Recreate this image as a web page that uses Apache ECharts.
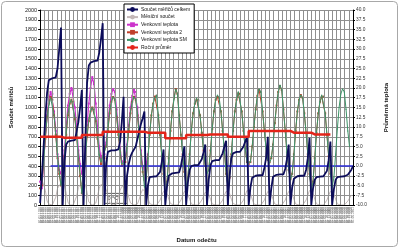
<!DOCTYPE html>
<html>
<head>
<meta charset="utf-8">
<script src="https://cdn.jsdelivr.net/npm/echarts@6/dist/echarts.min.js"></script>
<style>
  html, body { margin: 0; padding: 0; background: #fff; }
  #chart { width: 400px; height: 249px; }
</style>
</head>
<body>
<div id="chart"></div>
<script>
// dates of the readings, one per month
const prvniRok = 1996;
const pocetMesicu = 181;
const datumy = [];
for (let i = 0; i < pocetMesicu; i++) {
  const m = (i % 12) + 1;
  const r = prvniRok + Math.floor(i / 12);
  datumy.push('01.' + (m < 10 ? '0' + m : m) + '.' + r);
}

// Součet měřičů celkem (left axis)
const soucetMericu = [
  20, 300, 600, 900, 1150, 1280, 1300, 1300, 1300, 1310, 1400, 1600,
  1820, 0, 450, 620, 650, 655, 660, 660, 665, 670, 850, 1000,
  1180, 0, 650, 1250, 1430, 1460, 1470, 1475, 1480, 1480, 1560, 1700,
  1865, 0, 430, 545, 555, 560, 560, 560, 565, 570, 650, 850,
  1110, 0, 300, 420, 500, 540, 560, 600, 680, 760, 830, 890,
  960, 0, 200, 285, 290, 290, 290, 295, 295, 340, 440, 570,
  0, 190, 300, 320, 325, 330, 330, 330, 335, 400, 500, 600,
  0, 230, 360, 400, 405, 410, 410, 410, 415, 470, 540, 620,
  0, 260, 410, 450, 455, 460, 460, 460, 465, 530, 600, 660,
  0, 300, 480, 530, 540, 545, 545, 545, 550, 600, 650, 700,
  0, 180, 280, 300, 300, 300, 305, 305, 305, 380, 480, 700,
  0, 170, 290, 310, 310, 310, 315, 315, 315, 370, 470, 620,
  0, 180, 270, 290, 295, 295, 300, 300, 300, 360, 480, 690,
  0, 170, 260, 285, 290, 290, 290, 295, 295, 350, 460, 650,
  0, 160, 260, 285, 290, 290, 290, 295, 295, 310, 330, 360,
  400
];

// Měsíční součet (left axis)
const mesicniSoucet = [
  200, 260, 240, 150, 40, 10, 0, 0, 10, 80, 170, 200,
  220, 240, 200, 120, 30, 0, 0, 0, 10, 90, 180, 200,
  230, 250, 210, 130, 30, 10, 0, 0, 20, 90, 170, 210,
  220, 200, 160, 90, 20, 0, 0, 0, 10, 80, 150, 190,
  200, 180, 140, 80, 20, 0, 0, 0, 10, 60, 120, 160,
  180, 130, 70, 15, 0, 0, 0, 0, 10, 50, 100, 140,
  160, 120, 60, 15, 0, 0, 0, 0, 10, 50, 100, 140,
  150, 110, 60, 10, 0, 0, 0, 0, 10, 50, 90, 130,
  150, 110, 60, 10, 0, 0, 0, 0, 10, 50, 100, 140,
  160, 120, 60, 15, 0, 0, 0, 0, 10, 50, 100, 150,
  170, 120, 60, 10, 0, 0, 0, 0, 10, 50, 100, 140,
  150, 110, 60, 10, 0, 0, 0, 0, 10, 50, 100, 140,
  160, 110, 60, 10, 0, 0, 0, 0, 10, 50, 100, 150,
  160, 120, 60, 10, 0, 0, 0, 0, 10, 50, 100, 140,
  150, 110, 60, 10, 0, 0, 0, 0, 10, 40, 70, 100
];

// Venkovní teplota (°C, right axis)
const venkovniTeplota = [
  -4, -5.7, 1, 7.5, 13, 17, 19, 18.5, 14, 9, 3, -1,
  -1.9, 0, 4, 10, 15.5, 18.5, 20, 19.5, 15, 10, 4, 0.5,
  -2, -1, 4.5, 10.5, 16, 20, 22.8, 21, 16, 10, 5, 2,
  3.3, 3, 6, 11, 15.5, 18.5, 19.7, 19, 14.5, 9.5, 4.5, 1,
  1, 2, 5.5, 10.5, 15, 18, 19.5, 19, 15, 9, 4, 0,
  -1, 0.5, 3
];

// Venkovní teplota 2 (°C)
const venkovniTeplota2 = [
  -5.7, -5, 1, 7, 12.5, 16, 17.7, 17, 13, 8, 2, -2,
  -5, -3.5, 2.5, 8, 13, 16, 17, 16.5, 12, 7.5, 2, -2.5,
  -7, -4.5, 2, 7.5, 11.5, 14, 15, 14.5, 11.5, 7, 2.5, 0.5,
  2.5, 2, 5, 9, 13.5, 16.5, 17.7, 17, 12.5, 8, 3.5, 0,
  0.5, 1, 4.5, 9, 13.5, 16.5, 17.7, 17, 13, 7.5, 2.5, -1.5,
  -3.6, -3, 2, 8, 13, 16, 17.8, 18, 13, 8, 2.5, -2,
  -7.5, -4, 2, 9, 14, 17.5, 19.75, 18.5, 13, 8, 3, -1.5,
  -5, -3, 3, 9, 13.5, 16, 17, 16.8, 13, 8.5, 4, 0,
  -2, -1, 4, 9.5, 14, 17, 17.7, 17.5, 14, 9, 4, -2,
  -5, -3, 3, 9, 14, 17, 18.6, 18.5, 14, 9, 4.5, 1,
  0.5, 1, 5, 10, 14.5, 18, 19.5, 19, 14, 9, 4.5, 1.5,
  1, 2, 5.5, 11, 15.5, 19, 20.5, 19.5, 14.5, 9, 3.5, -1,
  -3.4, -2, 3, 9, 14, 17, 18.2, 17.5, 13.5, 8.5, 3, -2,
  -5.7, -4, 2, 8.5, 13.5, 16.5, 17.7, 17.8, 13.5, 8, 2.5, -2
];

// Venkovní teplota SM (°C)
const venkovniTeplotaSM = [
  -5.5, -4.5, 1.5, 7.5, 12.5, 15.5, 17.5, 17, 13, 8, 2.5, -1.5,
  -5, -3, 3, 8.5, 13.5, 16, 17, 16.5, 12.5, 8, 2.5, -2,
  -7, -4, 2.5, 8, 12, 14, 15, 14.5, 12, 7.5, 3, 1,
  2.5, 2, 5, 9.5, 14, 16.5, 17.7, 17, 13, 8.5, 4, 0.5,
  0.5, 1.5, 5, 9.5, 14, 16.5, 17.7, 17, 13.5, 8, 3, -1,
  -5.4, -3.5, 2, 8, 13, 16, 17.5, 18.2, 13, 8, 2.5, -2,
  -8, -4, 2, 9, 14, 17, 19.75, 18.5, 13, 8, 3, -1.5,
  -5.4, -3, 3, 9, 13.5, 16, 17.4, 17, 13, 8.5, 4, 0,
  -1.9, -1, 4, 9.5, 14, 17, 18.2, 17.5, 14, 9, 4, -2,
  -5.4, -3, 3, 9, 14, 17, 19, 18.5, 14, 9, 4.5, 1,
  0.75, 1, 5, 10, 14.5, 18, 19.75, 19, 14, 9, 4.5, 1.5,
  0.75, 2, 5.5, 11, 15.5, 19, 20.75, 19.5, 14.5, 9, 3.5, -1,
  -3.6, -2, 3, 9, 14, 17, 18.2, 17.5, 13.5, 8.5, 3, -2,
  -6.2, -4, 2, 8.5, 13.5, 16.5, 18.2, 17.8, 13.5, 8, 2.5, -2,
  -5.4, -3, 3, 9.5, 15, 18.5, 19.75, 19, 14.5, 9, 5
];

// Roční průměr (°C), one value per year
const rocniPrumer = [7.5, 7.25, 7.95, 8.8, 8.8, 8.55, 7.1, 7.95, 8.1, 7.5, 9.0, 9.0, 8.55, 8.1];

// 0 °C line starts at this reading
const nulaOd = 6;

let rocniMesicne = [];
rocniPrumer.forEach((v) => {
  for (let m = 0; m < 12; m++) rocniMesicne.push(v);
});

// vertical gridlines, every 2.4 readings
const krokMrizky = 2.4;
let svisleLinie = [];
for (let k = 1; k * krokMrizky < pocetMesicu - 1; k++) {
  svisleLinie.push({ xAxis: k * krokMrizky });
}

let dom = document.getElementById('chart');
let myChart = echarts.init(dom, null, { renderer: 'canvas' });

const font = 'Liberation Sans';
const gridColor = '#8f8f8f';

let option = {
  animation: false,
  backgroundColor: '#fff',
  textStyle: { fontFamily: font },
  grid: { left: 32, right: 47, top: 10, bottom: 44 },
  legend: {
    data: ['Součet měřičů celkem', 'Měsíční součet', 'Venkovní teplota',
      'Venkovní teplota 2', 'Venkovní teplota SM', 'Roční průměr'],
    orient: 'vertical',
    left: 124,
    top: 4,
    zlevel: 1,
    itemWidth: 11,
    itemHeight: 6,
    itemGap: 2.6,
    padding: [3, 4, 3, 2],
    backgroundColor: '#fff',
    borderColor: '#000',
    borderWidth: 1,
    textStyle: { fontSize: 5, color: '#111', fontFamily: font, padding: [0, 0, 0, -2] }
  },
  xAxis: [
    {
      type: 'category',
      data: datumy,
      boundaryGap: false,
      name: 'Datum odečtu',
      nameLocation: 'middle',
      nameGap: 32,
      nameTextStyle: { fontSize: 6, fontWeight: 'bold', color: '#111' },
      axisLine: { lineStyle: { color: '#000', width: 1 } },
      axisTick: { show: false },
      axisLabel: { interval: 0, rotate: 90, fontSize: 3.2, color: '#777', margin: 2 },
      splitLine: { show: false },
      z: 3
    },
    {
      // hidden axis that carries the vertical gridlines
      type: 'value',
      min: 0,
      max: pocetMesicu - 1,
      position: 'bottom',
      show: false
    }
  ],
  yAxis: [
    {
      type: 'value',
      min: 0,
      max: 2000,
      interval: 100,
      name: 'Součet měřičů',
      nameLocation: 'middle',
      nameRotate: 90,
      nameGap: 22,
      nameTextStyle: { fontSize: 6, fontWeight: 'bold', color: '#111' },
      axisLine: { show: true, lineStyle: { color: '#000' } },
      axisTick: { show: true, length: 2, lineStyle: { color: '#000' } },
      axisLabel: { fontSize: 5.5, color: '#222', margin: 3, formatter: (v) => String(v) },
      splitLine: { lineStyle: { color: gridColor, width: 1 } }
    },
    {
      type: 'value',
      min: -10,
      max: 40,
      interval: 2.5,
      name: 'Průměrná teplota',
      nameLocation: 'middle',
      nameRotate: 90,
      nameGap: 30,
      nameTextStyle: { fontSize: 6, fontWeight: 'bold', color: '#111' },
      axisLine: { show: true, lineStyle: { color: '#000' } },
      axisTick: { show: true, length: 2, lineStyle: { color: '#000' } },
      axisLabel: { fontSize: 4.8, color: '#333', margin: 3, formatter: (v) => v.toFixed(1) },
      splitLine: { show: false }
    }
  ],
  series: [
    {
      name: 'mrizka',
      type: 'line',
      xAxisIndex: 1,
      data: [],
      symbol: 'none',
      silent: true,
      markLine: {
        silent: true,
        symbol: 'none',
        label: { show: false },
        animation: false,
        lineStyle: { color: gridColor, width: 1, type: 'solid' },
        data: svisleLinie
      },
      z: 1
    },
    {
      name: 'Měsíční součet',
      type: 'line',
      data: mesicniSoucet,
      symbol: 'none',
      lineStyle: { color: '#c4b8b8', width: 1 },
      itemStyle: { color: '#c4b8b8' },
      z: 2
    },
    {
      name: 'Venkovní teplota',
      type: 'line',
      yAxisIndex: 1,
      data: venkovniTeplota,
      symbol: 'rect',
      symbolSize: 2,
      lineStyle: { color: '#cc33cc', width: 1.2 },
      itemStyle: { color: '#cc33cc' },
      z: 3
    },
    {
      name: 'Venkovní teplota 2',
      type: 'line',
      yAxisIndex: 1,
      data: venkovniTeplota2,
      symbol: 'rect',
      symbolSize: 2,
      lineStyle: { color: '#c0402a', width: 1 },
      itemStyle: { color: '#c0402a' },
      z: 4
    },
    {
      name: 'Venkovní teplota SM',
      type: 'line',
      yAxisIndex: 1,
      data: venkovniTeplotaSM,
      symbol: 'circle',
      symbolSize: 1.2,
      lineStyle: { color: '#3d9468', width: 1 },
      itemStyle: { color: '#3d9468' },
      z: 5
    },
    {
      name: 'Součet měřičů celkem',
      type: 'line',
      data: soucetMericu,
      symbol: 'none',
      lineStyle: { color: '#0c0c5a', width: 1.8 },
      itemStyle: { color: '#0c0c5a' },
      z: 6
    },
    {
      name: '0 °C',
      type: 'line',
      yAxisIndex: 1,
      data: [],
      symbol: 'none',
      markLine: {
        silent: true,
        symbol: 'none',
        label: { show: false },
        lineStyle: { color: '#2a2ad8', width: 1.5, type: 'solid' },
        data: [[{ coord: [nulaOd, 0] }, { coord: [pocetMesicu - 1, 0] }]]
      },
      z: 7
    },
    {
      name: 'Roční průměr',
      type: 'line',
      yAxisIndex: 1,
      data: rocniMesicne,
      step: 'end',
      symbol: 'none',
      lineStyle: { color: '#e32419', width: 2.5 },
      itemStyle: { color: '#e32419' },
      z: 8
    }
  ],
  graphic: [
    {
      type: 'rect',
      shape: { x: 1.5, y: 1.5, width: 396, height: 245, r: 4 },
      style: { fill: 'none', stroke: '#a8a8a8', lineWidth: 1 },
      silent: true
    },
    {
      type: 'group',
      left: 104,
      top: 193,
      zlevel: 1,
      children: [
        { type: 'rect', shape: { x: 0, y: 0, width: 23, height: 10 }, style: { fill: '#fff', stroke: '#333', lineWidth: 0.8 } },
        { type: 'text', x: 3, y: 2.5, style: { text: '0 °C', fontSize: 5.5, fill: '#111', fontFamily: font } }
      ]
    }
  ]
};

myChart.setOption(option);
window.addEventListener('resize', myChart.resize);
</script>
</body>
</html>
